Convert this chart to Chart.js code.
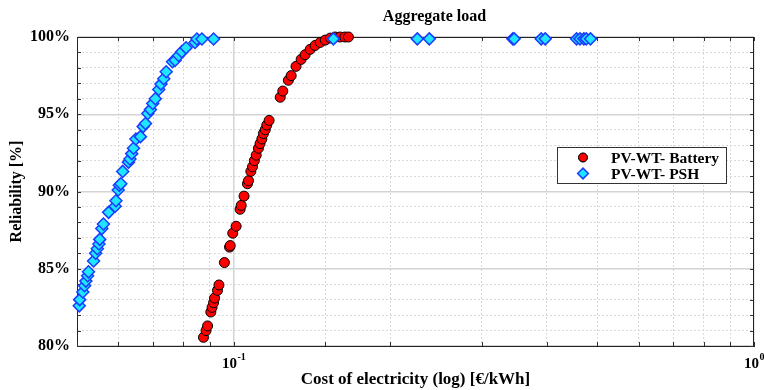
<!DOCTYPE html>
<html>
<head>
<meta charset="utf-8">
<script src="https://cdn.jsdelivr.net/npm/chart.js@4"></script>
<style>
  html, body { margin: 0; padding: 0; background: #fff; }
</style>
</head>
<body>
<canvas id="chart" width="764" height="390"></canvas>
<script>
const serif = "'Liberation Serif', 'Times New Roman', serif";

// PV-WT- Battery: cost of electricity [€/kWh] and reliability [%]
const batteryCost = [
  0.0875, 0.0885, 0.0891, 0.0904, 0.0909, 0.0915, 0.0919, 0.0931, 0.0937,
  0.0960, 0.0982, 0.0985, 0.0996, 0.1011, 0.1029, 0.1034, 0.1047,
  0.1063, 0.1068, 0.1079, 0.1087, 0.1096, 0.1105, 0.1116, 0.1124, 0.1133,
  0.1141, 0.1150, 0.1158, 0.1170,
  0.1229, 0.1243, 0.1274, 0.1290, 0.1318, 0.1348, 0.1372, 0.1403, 0.1434,
  0.1467, 0.1500, 0.1534, 0.1567, 0.1601, 0.1636, 0.1662
];
const batteryReliability = [
  80.56, 81.0, 81.3, 82.2, 82.5, 82.8, 83.1, 83.6, 83.95,
  85.4, 86.4, 86.5, 87.3, 87.75, 88.85, 89.1, 89.7,
  90.5, 90.7, 91.3, 91.6, 92.0, 92.35, 92.8, 93.1, 93.4,
  93.75, 94.0, 94.3, 94.6,
  96.1, 96.5, 97.2, 97.5, 98.1, 98.55, 98.85, 99.2, 99.45,
  99.65, 99.8, 99.93, 100, 100, 100, 100
];

// PV-WT- PSH
const pshCost = [
  0.0505, 0.0506, 0.0513, 0.0517, 0.0520, 0.0524, 0.0526, 0.0538, 0.0543,
  0.0547, 0.0551, 0.0553, 0.0558, 0.0562, 0.0575, 0.0592, 0.0594, 0.0600,
  0.0603, 0.0607, 0.0612, 0.0628, 0.0632, 0.0637, 0.0642, 0.0649, 0.0662,
  0.0670, 0.0677, 0.0684, 0.0692, 0.0699, 0.0707, 0.0718, 0.0725, 0.0734,
  0.0742, 0.0763, 0.0772, 0.0784, 0.0795, 0.0810, 0.0843, 0.0850, 0.0869,
  0.0915, 0.1555, 0.2254, 0.2377, 0.344, 0.346, 0.390, 0.397, 0.456, 0.463,
  0.471, 0.476, 0.485
];
const pshReliability = [
  82.6, 83.0, 83.5, 83.9, 84.2, 84.55, 84.8, 85.5, 86.0,
  86.3, 86.6, 86.9, 87.6, 87.9, 88.65, 89.05, 89.4, 90.1,
  90.4, 90.5, 91.3, 91.9, 92.1, 92.45, 92.8, 93.4, 93.55,
  94.2, 94.4, 95.05, 95.3, 95.7, 96.0, 96.6, 96.95, 97.3,
  97.75, 98.4, 98.5, 98.8, 99.05, 99.3, 99.65, 99.87, 99.87,
  99.87, 99.88, 99.88, 99.88, 99.88, 99.88, 99.88, 99.88, 99.88, 99.88,
  99.88, 99.88, 99.88
];

// decade tick labels: value, base, exponent
const xDecades = [0.1, 1];
const xDecadeExponents = ["-1", "0"];

function toPoints(xs, ys) {
  return xs.map((x, i) => ({ x, y: ys[i] }));
}

function isDecade(v) {
  return xDecades.some((d) => Math.abs(v - d) < 1e-9);
}

// box, inward ticks, title, decade labels and legend drawn around the chart area
const frame = {
  id: "frame",
  beforeDatasetsDraw(chart) {
    const { ctx, chartArea: a, scales } = chart;
    ctx.save();
    ctx.strokeStyle = "#333";
    ctx.lineWidth = 1;
    ctx.beginPath();
    scales.y.ticks.forEach((t) => {
      const py = Math.round(scales.y.getPixelForValue(t.value)) + 0.5;
      ctx.moveTo(a.left, py); ctx.lineTo(a.left + 4, py);
      ctx.moveTo(a.right, py); ctx.lineTo(a.right - 4, py);
    });
    scales.x.ticks.forEach((t) => {
      const px = Math.round(scales.x.getPixelForValue(t.value)) + 0.5;
      ctx.moveTo(px, a.bottom); ctx.lineTo(px, a.bottom - 4);
      ctx.moveTo(px, a.top); ctx.lineTo(px, a.top + 4);
    });
    ctx.stroke();
    ctx.strokeStyle = "#222";
    ctx.beginPath();
    ctx.moveTo(a.left, a.top + 0.5); ctx.lineTo(a.right, a.top + 0.5);
    ctx.moveTo(a.right - 0.5, a.top); ctx.lineTo(a.right - 0.5, a.bottom);
    ctx.stroke();
    ctx.restore();
  },
  afterDraw(chart) {
    const { ctx, chartArea: a, scales } = chart;
    ctx.save();
    ctx.fillStyle = "#000";
    ctx.font = "bold 16px " + serif;
    ctx.textAlign = "center";
    ctx.textBaseline = "middle";
    ctx.fillText("Aggregate load", a.left + a.width * 0.528, 17);

    // 10^n labels under the x axis
    xDecades.forEach((d, i) => {
      const px = scales.x.getPixelForValue(d);
      ctx.font = "bold 15px " + serif;
      const bw = ctx.measureText("10").width;
      ctx.font = "bold 10px " + serif;
      const ew = ctx.measureText(xDecadeExponents[i]).width;
      const x0 = px - (bw + ew) / 2;
      ctx.textAlign = "left";
      ctx.textBaseline = "alphabetic";
      ctx.font = "bold 15px " + serif;
      ctx.fillText("10", x0, a.bottom + 22);
      ctx.font = "bold 10px " + serif;
      ctx.fillText(xDecadeExponents[i], x0 + bw + 0.5, a.bottom + 14);
    });

    // legend
    const bx = 557, by = 147, bw = 169, bh = 36;
    ctx.fillStyle = "#fff";
    ctx.fillRect(bx, by, bw, bh);
    ctx.strokeStyle = "#333";
    ctx.lineWidth = 1;
    ctx.strokeRect(bx + 0.5, by + 0.5, bw, bh);
    chart.data.datasets.forEach((ds, i) => {
      const cy = by + 10.5 + i * 16;
      Chart.helpers.drawPoint(ctx, {
        pointStyle: ds.pointStyle,
        radius: ds.pointRadius - 0.6,
        borderWidth: ds.borderWidth,
        rotation: 0
      }, 583, cy);
      ctx.fillStyle = ds.backgroundColor;
      ctx.strokeStyle = ds.borderColor;
      ctx.lineWidth = ds.borderWidth;
      ctx.fill();
      ctx.stroke();
      ctx.fillStyle = "#000";
      ctx.font = "bold 15.5px " + serif;
      ctx.textAlign = "left";
      ctx.textBaseline = "middle";
      ctx.fillText(ds.label, 611, cy + 1);
    });
    ctx.restore();
  }
};

new Chart(document.getElementById("chart"), {
  type: "scatter",
  data: {
    datasets: [
      {
        label: "PV-WT- Battery",
        data: toPoints(batteryCost, batteryReliability),
        pointStyle: "circle",
        pointRadius: 5,
        backgroundColor: "#ff0000",
        borderColor: "#000000",
        borderWidth: 1,
        order: 1,
        clip: false
      },
      {
        label: "PV-WT- PSH",
        data: toPoints(pshCost, pshReliability),
        pointStyle: "rectRot",
        pointRadius: 6,
        backgroundColor: "#1ee6ff",
        borderColor: "#1a3cff",
        borderWidth: 1.5,
        order: 0,
        clip: false
      }
    ]
  },
  options: {
    responsive: false,
    animation: false,
    layout: { padding: { top: 37, right: 10, left: 0, bottom: 0 } },
    plugins: {
      legend: { display: false },
      title: { display: false },
      tooltip: { enabled: false }
    },
    elements: { point: { hoverRadius: 5 } },
    scales: {
      x: {
        type: "logarithmic",
        min: 0.05,
        max: 1,
        afterFit(scale) {
          scale.height = 44;
          scale.paddingLeft = 0;
          scale.paddingRight = 0;
        },
        grid: {
          drawTicks: false,
          color: (c) => (c.tick && isDecade(c.tick.value) ? "#d4d4d4" : "#d9d9d9"),
          lineWidth: (c) => (c.tick && isDecade(c.tick.value) ? 1.5 : 1)
        },
        border: {
          color: "#222",
          width: 1,
          dash: (c) => (c.tick && !isDecade(c.tick.value) ? [2, 2] : [])
        },
        ticks: {
          autoSkip: false,
          maxRotation: 0,
          padding: 9,
          callback: () => ""
        },
        title: {
          display: true,
          text: "Cost of electricity (log) [€/kWh]",
          color: "#000",
          font: { family: serif, size: 17, weight: "bold" },
          padding: { top: 0, bottom: 0 }
        }
      },
      y: {
        min: 80,
        max: 100,
        afterFit(scale) {
          scale.width = 77;
        },
        grid: {
          drawTicks: false,
          color: (c) => (c.tick && c.tick.value % 5 === 0 ? "#d4d4d4" : "#d9d9d9"),
          lineWidth: (c) => (c.tick && c.tick.value % 5 === 0 ? 1.5 : 1)
        },
        border: {
          color: "#222",
          width: 1,
          dash: (c) => (c.tick && c.tick.value % 5 !== 0 ? [2, 2] : [])
        },
        ticks: {
          stepSize: 1,
          autoSkip: false,
          padding: 7,
          color: "#000",
          font: { family: serif, size: 16, weight: "bold" },
          callback: (v) => (v % 5 === 0 ? v + "%" : "")
        },
        title: {
          display: true,
          text: "Reliability [%]",
          color: "#000",
          font: { family: serif, size: 16, weight: "bold" },
          padding: { top: 7, bottom: 0 }
        }
      }
    }
  },
  plugins: [frame]
});
</script>
</body>
</html>
